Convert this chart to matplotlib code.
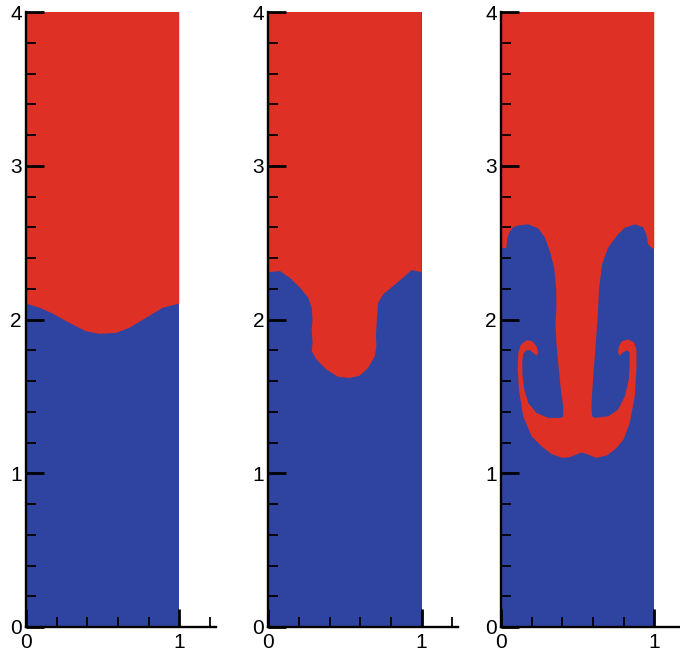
import numpy as np
import matplotlib
matplotlib.use("Agg")
import matplotlib.pyplot as plt
from matplotlib.ticker import MultipleLocator

plt.rcParams['font.family'] = ['Liberation Sans', 'DejaVu Sans']

RED = "#DE3024"
BLUE = "#2F44A0"

# Interface between heavy (red, top) and light (blue, bottom) fluid
panel1_x = [0.0, 0.09, 0.174, 0.283, 0.391, 0.478, 0.587, 0.674, 0.783, 0.891, 1.0]
panel1_y = [2.104, 2.076, 2.039, 1.978, 1.924, 1.907, 1.913, 1.946, 2.011, 2.076, 2.104]

panel2_x = [0.0, 0.076, 0.141, 0.207, 0.261, 0.283, 0.289, 0.283, 0.289, 0.283, 0.315,
            0.38, 0.456, 0.532, 0.597, 0.651, 0.695, 0.706, 0.702, 0.710, 0.717,
            0.749, 0.814, 0.879, 0.934, 1.0]
panel2_y = [2.308, 2.315, 2.271, 2.207, 2.141, 2.076, 2.0, 1.935, 1.848, 1.794, 1.739,
            1.674, 1.627, 1.62, 1.635, 1.685, 1.761, 1.826, 1.891, 2.021, 2.109,
            2.163, 2.217, 2.271, 2.321, 2.308]

panel3_x = [0.0, 0.035, 0.04, 0.055, 0.08, 0.113, 0.178, 0.243, 0.287, 0.319, 0.347,
            0.36, 0.362, 0.355, 0.362, 0.375, 0.39, 0.405, 0.406, 0.39, 0.308,
            0.232, 0.178, 0.152, 0.139, 0.139, 0.145, 0.167, 0.189, 0.211, 0.232,
            0.243, 0.232, 0.204, 0.167, 0.13, 0.113, 0.109, 0.117, 0.145, 0.2,
            0.265, 0.33, 0.4, 0.45, 0.5, 0.525, 0.56, 0.62, 0.69, 0.75,
            0.8, 0.84, 0.873, 0.884, 0.884, 0.868, 0.829, 0.79, 0.769, 0.764,
            0.775, 0.797, 0.825, 0.84, 0.84, 0.834, 0.808, 0.764, 0.699, 0.61,
            0.595, 0.59, 0.6, 0.615, 0.63, 0.64, 0.66, 0.699, 0.764, 0.808,
            0.873, 0.927, 0.949, 0.96, 0.982, 1.0]
panel3_y = [2.465, 2.465, 2.52, 2.57, 2.6, 2.612, 2.619, 2.593, 2.532, 2.445, 2.337,
            2.2, 2.08, 1.97, 1.84, 1.7, 1.55, 1.44, 1.37, 1.36, 1.36,
            1.392, 1.457, 1.544, 1.653, 1.728, 1.778, 1.8, 1.8, 1.783, 1.765,
            1.783, 1.826, 1.859, 1.865, 1.837, 1.783, 1.674, 1.544, 1.37, 1.24,
            1.175, 1.125, 1.1, 1.105, 1.125, 1.135, 1.125, 1.1, 1.115, 1.16,
            1.22, 1.327, 1.5, 1.674, 1.805, 1.852, 1.87, 1.859, 1.826, 1.783,
            1.765, 1.787, 1.8, 1.783, 1.718, 1.609, 1.5, 1.414, 1.37, 1.36,
            1.37, 1.44, 1.6, 1.8, 2.0, 2.2, 2.36, 2.467, 2.554, 2.597,
            2.619, 2.601, 2.554, 2.489, 2.467, 2.46]

panels = [(panel1_x, panel1_y), (panel2_x, panel2_y), (panel3_x, panel3_y)]
domain_x = [0.0, 1.0]
domain_top = 4.0
x_ticklabels = ["0", "1"]
y_ticklabels = ["0", "1", "2", "3", "4"]

W, H = 680, 654
fig = plt.figure(figsize=(W / 100, H / 100), dpi=100)
lefts = [26, 268.3, 501]
ax_w = 190
bottom_px = 27
ax_h = 615

for left, (px, py) in zip(lefts, panels):
    ax = fig.add_axes([left / W, bottom_px / H, ax_w / W, ax_h / H])
    ax.fill_between(domain_x, 0, domain_top, color=BLUE, linewidth=0, zorder=1)
    xs = list(px) + [domain_x[1], domain_x[0]]
    ys = list(py) + [domain_top, domain_top]
    ax.fill(xs, ys, color=RED, linewidth=0, zorder=1.1)
    ax.set_xlim(0, 1.24)
    ax.set_ylim(0, 4)
    for s in ["top", "right"]:
        ax.spines[s].set_visible(False)
    for s in ["left", "bottom"]:
        ax.spines[s].set_linewidth(1.7)
        ax.spines[s].set_color("black")
        ax.spines[s].set_zorder(3)
    ax.xaxis.set_major_locator(MultipleLocator(1))
    ax.xaxis.set_minor_locator(MultipleLocator(0.2))
    ax.yaxis.set_major_locator(MultipleLocator(1))
    ax.yaxis.set_minor_locator(MultipleLocator(0.2))
    ax.set_xticks([0, 1])
    ax.set_xticklabels(x_ticklabels)
    ax.set_yticks([0, 1, 2, 3, 4])
    ax.set_yticklabels(y_ticklabels)
    ax.tick_params(which="major", direction="in", length=13, width=2.0, labelsize=15, color="black")
    ax.tick_params(axis="y", which="major", pad=3)
    ax.tick_params(axis="x", which="major", pad=4)
    ax.tick_params(which="minor", direction="in", length=7, width=1.3, color="black")
    ax.patch.set_alpha(0)
    for t in ax.get_xticklines() + ax.get_yticklines():
        t.set_zorder(4)

fig.savefig("out.png", dpi=100)
